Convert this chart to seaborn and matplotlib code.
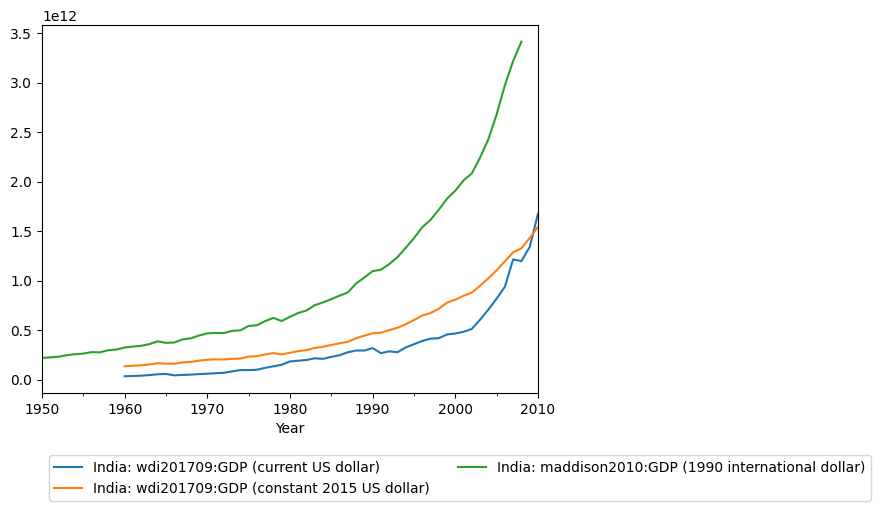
import pandas as pd
import matplotlib
matplotlib.use('Agg')
import matplotlib.pyplot as plt
import seaborn as sns
from matplotlib.ticker import MultipleLocator

# Datos: PIB de India (dólares)
years_wdi = list(range(1960, 2011))
gdp_current = [37.0, 39.2, 42.2, 48.4, 56.5, 59.6, 45.9, 50.1, 53.1, 58.4,
               62.4, 67.4, 71.5, 85.5, 99.5, 98.5, 102.7, 121.5, 137.3, 153.0,
               186.3, 193.5, 200.7, 218.3, 212.2, 232.5, 249.0, 279.0, 296.6, 296.0,
               321.0, 270.1, 288.2, 279.3, 327.3, 360.3, 392.9, 415.9, 421.4, 458.8,
               468.4, 485.4, 514.9, 607.7, 709.1, 820.4, 940.3, 1216.7, 1198.9, 1341.9,
               1675.6]
gdp_constant = [138.0, 143.1, 147.3, 156.1, 167.8, 163.4, 163.3, 176.0, 182.0, 193.8,
                203.9, 207.2, 205.9, 212.7, 215.3, 234.9, 238.9, 256.3, 270.9, 256.8,
                274.0, 290.5, 300.6, 322.6, 334.9, 352.6, 369.5, 384.3, 421.2, 446.1,
                470.6, 475.8, 502.0, 526.1, 561.3, 604.0, 649.3, 675.3, 717.2, 780.3,
                809.9, 848.8, 881.1, 950.7, 1025.8, 1106.8, 1196.4, 1288.6, 1328.5, 1433.5,
                1545.0]
years_mad = list(range(1950, 2009))
gdp_maddison = [222.2, 227.4, 234.1, 249.0, 259.3, 265.5, 280.4, 277.8, 299.3, 306.0,
                326.9, 336.7, 344.2, 361.4, 389.3, 373.8, 377.2, 408.3, 419.9, 447.9,
                469.6, 474.3, 472.8, 494.8, 500.1, 544.7, 551.4, 593.8, 625.7, 594.5,
                637.2, 675.9, 700.2, 754.5, 782.6, 815.3, 850.5, 883.4, 972.9, 1034.3,
                1098.1, 1112.3, 1169.1, 1238.5, 1333.5, 1430.7, 1541.3, 1615.8, 1717.5, 1830.0,
                1910.0, 2015.0, 2085.0, 2245.0, 2430.0, 2680.0, 2975.0, 3220.0, 3415.2]

lbl_cur = 'India: wdi201709:GDP (current US dollar)'
lbl_con = 'India: wdi201709:GDP (constant 2015 US dollar)'
lbl_mad = 'India: maddison2010:GDP (1990 international dollar)'

# Tabla en formato largo (miles de millones -> dólares)
df = pd.concat([
    pd.DataFrame({'Year': years_wdi, 'GDP': [v * 1e9 for v in gdp_current], 'serie': lbl_cur}),
    pd.DataFrame({'Year': years_wdi, 'GDP': [v * 1e9 for v in gdp_constant], 'serie': lbl_con}),
    pd.DataFrame({'Year': years_mad, 'GDP': [v * 1e9 for v in gdp_maddison], 'serie': lbl_mad}),
])

fig = plt.figure(figsize=(8.8, 5.09), dpi=100)
ax = fig.add_axes([0.0477, 0.228, 0.5636, 0.723])
sns.lineplot(data=df, x='Year', y='GDP', hue='serie',
             palette=['#1f77b4', '#ff7f0e', '#2ca02c'], ax=ax)
ax.set_xlim(1950, 2010)
ax.xaxis.set_minor_locator(MultipleLocator(5))
ax.set_xlabel('Year')
ax.set_ylabel('')
ax.legend(loc='upper left', bbox_to_anchor=(0.0, -0.15), ncol=2)

fig.savefig('out.png', dpi=100)
